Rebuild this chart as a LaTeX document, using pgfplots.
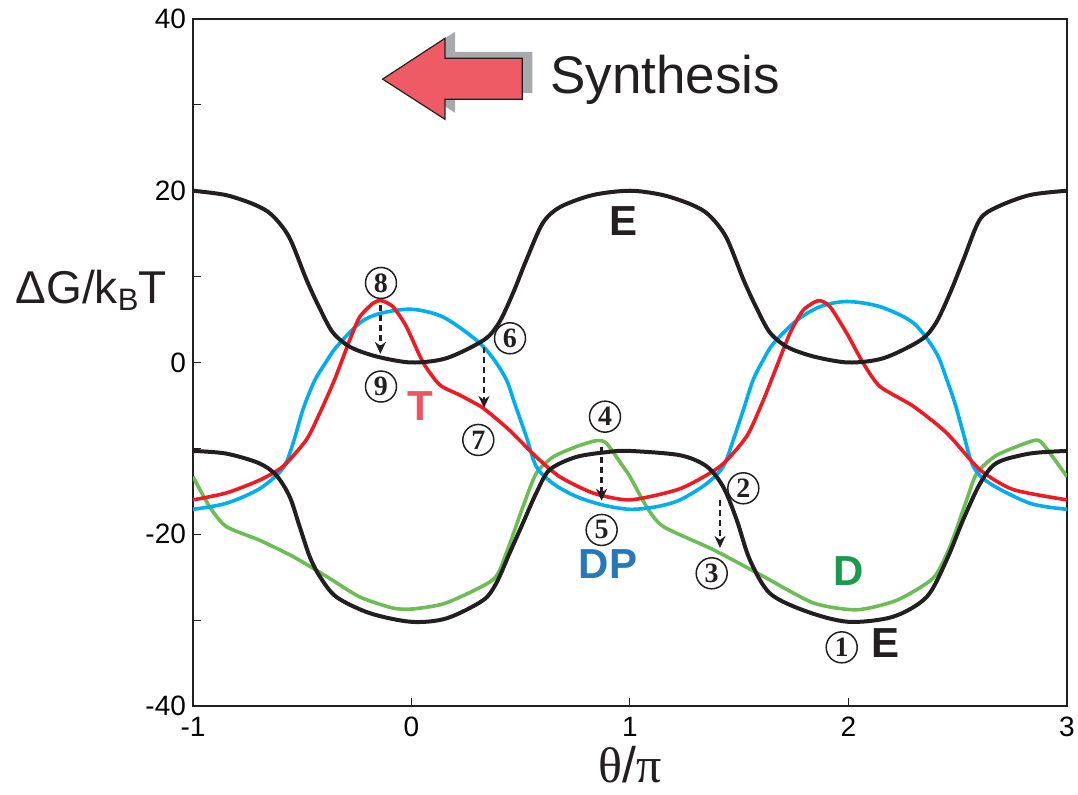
\documentclass[border=0pt]{standalone}
\usepackage{fontspec}
\setmainfont{Liberation Sans}
\newfontfamily\seriffont{Liberation Serif}
\usepackage{pgfplots}
\pgfplotsset{compat=1.18}
\usetikzlibrary{arrows.meta}
\definecolor{cblack}{HTML}{231F20}
\definecolor{cblue}{HTML}{00AEEF}
\definecolor{cred}{HTML}{ED1C24}
\definecolor{cgreen}{HTML}{6CBD55}
\definecolor{lblT}{HTML}{EE5563}
\definecolor{lblDP}{HTML}{2677BC}
\definecolor{lblD}{HTML}{1A9A4B}
\definecolor{arrowfill}{HTML}{EF5B65}
\definecolor{shadowgray}{HTML}{A7A9AC}

\pgfplotstableread{
x y
-1 20
-0.85 19.5
-0.72 18.4
-0.64 17.2
-0.56 14.6
-0.48 9.6
-0.42 6.3
-0.36 3.5
-0.28 1.8
-0.16 0.7
0 0
0.16 0.5
0.33 2.6
0.40 4.6
0.465 8.1
0.525 11.9
0.60 16.2
0.68 18.1
0.83 19.5
1 20
1.15 19.5
1.28 18.4
1.36 17.2
1.44 14.6
1.52 9.6
1.58 6.3
1.64 3.5
1.72 1.8
1.84 0.7
2 0
2.16 0.5
2.33 2.6
2.40 4.6
2.465 8.1
2.525 11.9
2.60 16.6
2.68 18.1
2.83 19.5
3 20
}\Eup

\pgfplotstableread{
x y
-1 -10.3
-0.85 -10.6
-0.7 -11.7
-0.62 -13.1
-0.558 -15.6
-0.512 -19.1
-0.466 -22.6
-0.42 -24.9
-0.344 -27.3
-0.19 -29.2
0 -30.2
0.16 -29.8
0.327 -27.7
0.388 -25.7
0.449 -22.2
0.51 -18.7
0.571 -15.2
0.632 -12.5
0.754 -11.0
0.907 -10.4
1 -10.3
1.229 -10.8
1.351 -12.1
1.427 -14.5
1.488 -18.3
1.549 -23.0
1.641 -26.9
1.809 -29.0
2.0 -30.2
2.205 -29.6
2.358 -27.3
2.449 -23.0
2.525 -18.3
2.602 -14.1
2.678 -11.7
2.831 -10.6
3 -10.3
}\Elow

\pgfplotstableread{
x y
-1 -17.1
-0.848 -16.4
-0.695 -14.7
-0.588 -12.3
-0.542 -9.4
-0.497 -5.5
-0.445 -2.2
-0.39 0.1
-0.344 1.8
-0.237 4.6
-0.146 5.7
0 6.2
0.144 5.3
0.297 2.6
0.373 0.5
0.434 -2.0
0.47 -4.6
0.525 -8.6
0.571 -12.1
0.648 -14.1
0.754 -15.6
0.876 -16.6
1 -17.1
1.12 -16.8
1.229 -16.0
1.351 -14.1
1.427 -12.1
1.473 -9.0
1.519 -5.5
1.564 -2.0
1.61 0.3
1.656 2.2
1.763 4.9
1.87 6.5
1.992 7.1
2.144 6.5
2.297 4.6
2.40 1.2
2.45 -2.0
2.49 -5.0
2.525 -8.2
2.571 -12.1
2.648 -14.1
2.831 -16.4
3 -17.1
}\DP

\pgfplotstableread{
x y
-1 -16.0
-0.848 -15.2
-0.695 -13.7
-0.588 -12.1
-0.481 -9.0
-0.42 -5.9
-0.352 -2.0
-0.283 2.6
-0.237 5.3
-0.176 6.9
-0.138 7.2
-0.085 6.5
-0.024 4.2
0.053 0.0
0.129 -2.6
0.221 -3.8
0.327 -5.3
0.449 -7.9
0.571 -11.0
0.678 -13.3
0.831 -15.2
1 -16.0
1.229 -14.7
1.412 -12.1
1.534 -8.6
1.61 -4.4
1.66 -1.2
1.732 3.4
1.793 6.1
1.862 7.2
1.915 6.5
1.992 3.4
2.068 -0.1
2.144 -2.8
2.297 -5.1
2.449 -8.2
2.602 -12.5
2.754 -14.8
3 -16.0
}\T

\pgfplotstableread{
x y
-1 -13.3
-0.924 -16.8
-0.848 -19.1
-0.695 -20.7
-0.542 -22.6
-0.39 -24.9
-0.237 -27.3
-0.085 -28.6
0.007 -28.7
0.159 -28.0
0.373 -25.3
0.434 -22.2
0.51 -16.8
0.571 -12.9
0.648 -11.0
0.754 -9.8
0.846 -9.1
0.892 -9.4
0.968 -12.1
1.0 -13.3
1.076 -16.8
1.152 -19.1
1.381 -21.8
1.61 -24.9
1.839 -28.0
2.037 -28.8
2.22 -27.7
2.388 -25.1
2.465 -21.4
2.541 -16.0
2.587 -12.9
2.678 -10.8
2.846 -9.1
2.89 -9.5
3 -13.3
}\D

\begin{document}
\begin{tikzpicture}
\begin{axis}[
  width=437pt, height=343.5pt, scale only axis,
  xmin=-1, xmax=3, ymin=-40, ymax=40,
  xtick={-1,0,1,2,3}, xticklabels={-1,0,1,2,3},
  ytick={-40,-20,0,20,40}, yticklabels={-40,-20,0,20,40},
  minor ytick={-30,-10,10,30},
  tick align=inside, xtick pos=bottom, ytick pos=left,
  major tick length=4pt, minor tick length=4pt,
  tick style={cblack, line width=0.5pt},
  axis line style={cblack, line width=1pt},
  ticklabel style={font=\fontsize{14}{14}\selectfont},
  xticklabel shift=2pt,
  clip mode=individual,
]
\addplot[cgreen, line width=1.8pt, smooth, tension=0.4] table[x=x,y=y] {\D};
\addplot[cblue, line width=1.8pt, smooth, tension=0.5] table[x=x,y=y] {\DP};
\addplot[cred, line width=1.8pt, smooth, tension=0.4] table[x=x,y=y] {\T};
\addplot[cblack, line width=2pt, smooth, tension=0.5] table[x=x,y=y] {\Eup};
\addplot[cblack, line width=2pt, smooth, tension=0.5] table[x=x,y=y] {\Elow};

% dashed transition arrows
\tikzset{trans/.style={cblack, line width=1.2pt, dash pattern=on 3pt off 2pt, -{Stealth[length=6pt,width=5.5pt]}}}
\draw[trans] (axis cs:-0.1424,6.7) -- (axis cs:-0.1424,1.0);
\draw[trans] (axis cs:0.3318,1.8) -- (axis cs:0.3318,-5.3);
\draw[trans] (axis cs:0.870,-9.8) -- (axis cs:0.870,-16.1);
\draw[trans] (axis cs:1.412,-16.0) -- (axis cs:1.412,-21.6);

% circled numbers
\tikzset{circnum/.style={circle, draw=cblack, line width=0.75pt, inner sep=0pt, minimum size=15.5pt, font=\seriffont\bfseries\fontsize{14}{14}\selectfont, text=cblack}}
\node[circnum] at (axis cs:1.969,-33.17) {1};
\node[circnum] at (axis cs:1.5186,-14.65) {2};
\node[circnum] at (axis cs:1.374,-24.55) {3};
\node[circnum] at (axis cs:0.8856,-6.31) {4};
\node[circnum] at (axis cs:0.8703,-19.5) {5};
\node[circnum] at (axis cs:0.4508,2.82) {6};
\node[circnum] at (axis cs:0.3057,-9.02) {7};
\node[circnum] at (axis cs:-0.1396,9.26) {8};
\node[circnum] at (axis cs:-0.1396,-2.8) {9};

% curve labels
\node[font=\bfseries\fontsize{21}{21}\selectfont, text=cblack, inner sep=0pt] at (axis cs:0.9725,16.42) {E};
\node[font=\bfseries\fontsize{21}{21}\selectfont, text=cblack, inner sep=0pt] at (axis cs:2.1716,-32.7) {E};
\node[font=\bfseries\fontsize{21}{21}\selectfont, text=lblT, inner sep=0pt] at (axis cs:0.041,-5.07) {T};
\node[font=\bfseries\fontsize{21}{21}\selectfont, text=lblDP, inner sep=0pt] at (axis cs:0.899,-23.5) {DP};
\node[font=\bfseries\fontsize{21}{21}\selectfont, text=lblD, inner sep=0pt] at (axis cs:2.002,-24.3) {D};

% synthesis arrow with shadow
\fill[shadowgray] (axis cs:-0.0865,33.76) -- (axis cs:0.1991,38.51) -- (axis cs:0.1991,36.18) -- (axis cs:0.5529,36.18) -- (axis cs:0.5529,31.41) -- (axis cs:0.1991,31.41) -- (axis cs:0.1991,29.08) -- cycle;
\draw[fill=arrowfill, draw=cblack, line width=0.6pt, line join=miter] (axis cs:-0.1323,33.0) -- (axis cs:0.1533,37.75) -- (axis cs:0.1533,35.42) -- (axis cs:0.5071,35.42) -- (axis cs:0.5071,30.65) -- (axis cs:0.1533,30.65) -- (axis cs:0.1533,28.32) -- cycle;
\node[anchor=base west, inner sep=0pt, font=\fontsize{26.5}{26.5}\selectfont, text=cblack] at (axis cs:0.634,31.35) {Synthesis};

% axis labels
\node[anchor=base east, inner sep=0pt, font=\fontsize{23}{23}\selectfont, text=cblack, xshift=-13pt] at (axis cs:-1,6.9) {ΔG/k\raisebox{-0.3ex}{\fontsize{15.5}{15.5}\selectfont B}T};
\node[anchor=base, inner sep=0pt, font=\fontsize{25}{25}\selectfont, text=cblack, yshift=-38.5pt] at (axis cs:1,-40) {{\seriffont θ}/{\seriffont π}};
\end{axis}
\pgfresetboundingbox
\path ([shift={(-96.5pt,-44.5pt)}]current axis.south west) rectangle ([shift={(5.5pt,9.5pt)}]current axis.north east);
\end{tikzpicture}
\end{document}
